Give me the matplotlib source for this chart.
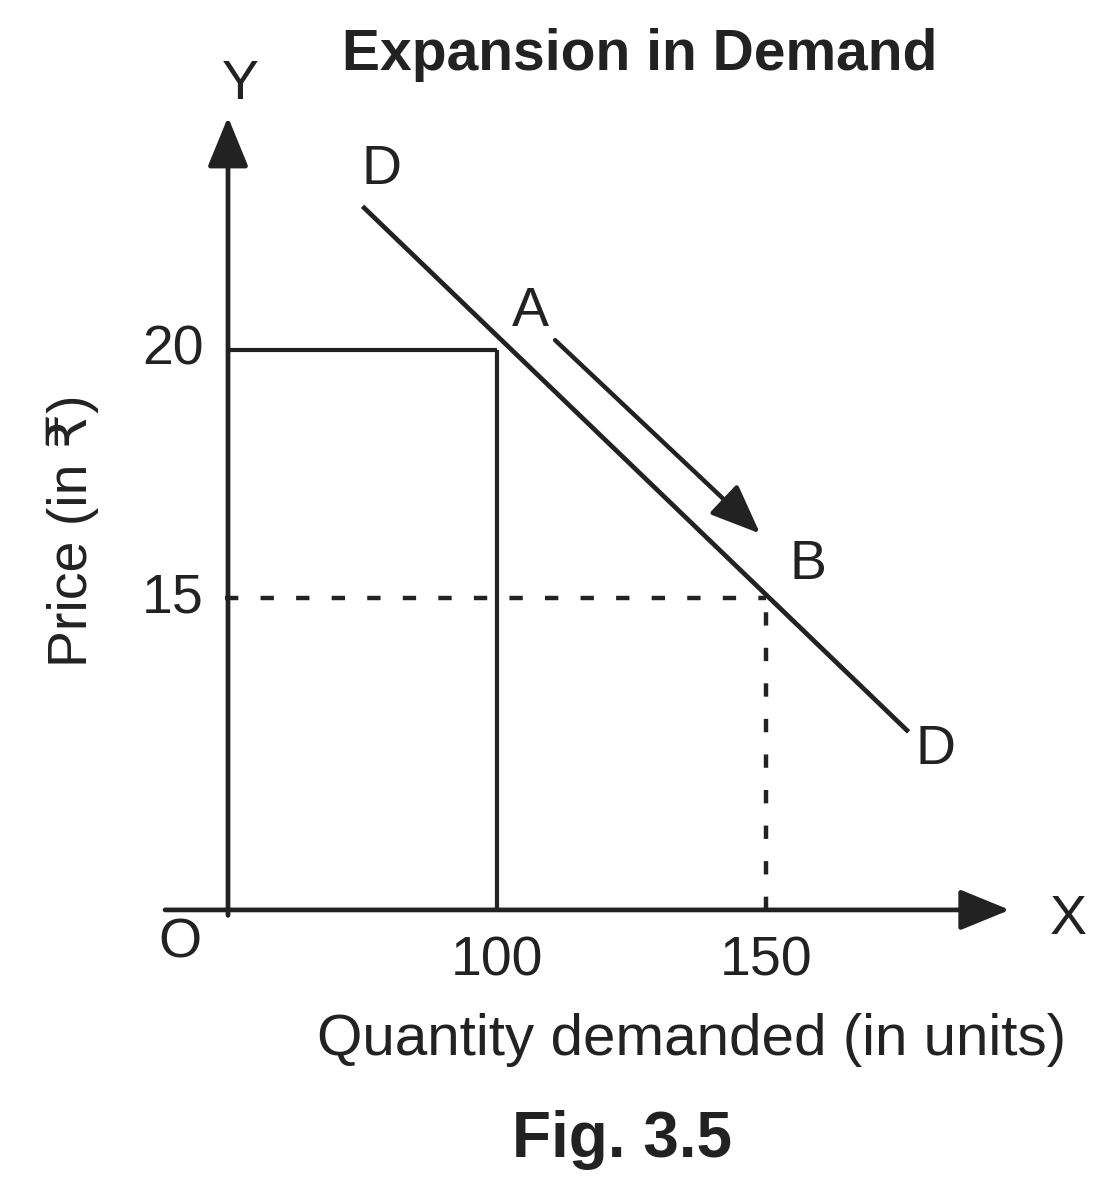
# ==========================================================
# Expansion in Demand - Fig. 3.5
# ==========================================================

import matplotlib
matplotlib.use("Agg")
import matplotlib.pyplot as plt

# ==========================
# STEP 1 : Chart Data
# ==========================

quantity_ticks = [100, 150]
price_ticks = [20, 15]

demand_q = [75, 176.5]
demand_p = [22.9, 12.3]

point_a = (100, 20)
point_b = (150, 15)

move_start = (110.8, 20.2)
move_end = (148.9, 16.3)

# ==========================
# STEP 2 : Layout
# ==========================

Q0 = 50      # where the drawn axes meet (schematic origin)
P0 = 8.71

INK = "#222222"
FONT = ["Liberation Sans", "DejaVu Sans"]

fig = plt.figure(figsize=(11.13, 12), dpi=100)
ax = fig.add_axes([0, 0, 1, 1])
ax.set_xlim(7.62, 214.5)
ax.set_ylim(2.86, 27.06)
ax.axis("off")


def fx(px):
    return px / 1113


def fy(py):
    return 1 - py / 1200


# ==========================
# STEP 3 : Axes with arrows
# ==========================

axis_arrow = dict(arrowstyle="-|>,head_length=1.1,head_width=0.45",
                  lw=3.4, color=INK, mutation_scale=28,
                  shrinkA=0, shrinkB=0)

ax.annotate("", xy=(195.3, P0), xytext=(38.3, P0), arrowprops=axis_arrow)
ax.annotate("", xy=(Q0, 24.7), xytext=(Q0, 8.6), arrowprops=axis_arrow)

# ==========================
# STEP 4 : Guide lines
# ==========================

ax.plot([Q0, point_a[0]], [point_a[1], point_a[1]], color=INK, lw=3.0,
        solid_capstyle="butt")
ax.plot([point_a[0], point_a[0]], [P0, point_a[1]], color=INK, lw=3.0,
        solid_capstyle="butt")

ax.plot([Q0 - 0.5, point_b[0]], [point_b[1], point_b[1]], color=INK,
        lw=3.2, linestyle=(0, (3, 5)))
ax.plot([point_b[0], point_b[0]], [P0, point_b[1]], color=INK, lw=3.2,
        linestyle=(0, (3, 5)))

# ==========================
# STEP 5 : Demand curve
# ==========================

ax.plot(demand_q, demand_p, color=INK, lw=3.4, solid_capstyle="butt")

ax.annotate("", xy=move_end, xytext=move_start,
            arrowprops=dict(arrowstyle="-|>,head_length=1.1,head_width=0.45",
                            lw=3.2, color=INK, mutation_scale=28,
                            shrinkA=0, shrinkB=0))

# ==========================
# STEP 6 : Labels
# ==========================

for q in quantity_ticks:
    ax.text(q, P0 - 1.05, str(q), ha="center", va="center",
            fontsize=40, color=INK, family=FONT)

for p in price_ticks:
    ax.text(Q0 - 10.3, p, str(p), ha="center", va="center",
            fontsize=40, color=INK, family=FONT)

fig.text(fx(180), fy(943), "O", ha="center", va="center",
         fontsize=40, color=INK, family=FONT)
fig.text(fx(1068), fy(920), "X", ha="center", va="center",
         fontsize=40, color=INK, family=FONT)
fig.text(fx(240), fy(85), "Y", ha="center", va="center",
         fontsize=40, color=INK, family=FONT)

fig.text(fx(382), fy(170), "D", ha="center", va="center",
         fontsize=40, color=INK, family=FONT)
fig.text(fx(935), fy(750), "D", ha="center", va="center",
         fontsize=40, color=INK, family=FONT)
fig.text(fx(530), fy(312), "A", ha="center", va="center",
         fontsize=40, color=INK, family=FONT)
fig.text(fx(808), fy(565), "B", ha="center", va="center",
         fontsize=40, color=INK, family=FONT)

fig.text(fx(640), fy(55), "Expansion in Demand", ha="center",
         va="center", fontsize=41, fontweight="bold", color=INK,
         family=FONT)

fig.text(fx(692), fy(1040), "Quantity demanded (in units)", ha="center",
         va="center", fontsize=42, color=INK, family=FONT)

fig.text(fx(73), fy(531), "Price (in \u20b9)", ha="center", va="center",
         rotation=90, fontsize=40, color=INK, family=FONT)

fig.text(fx(622), fy(1140), "Fig. 3.5", ha="center", va="center",
         fontsize=46, fontweight="bold", color=INK, family=FONT)

plt.savefig("out.png", dpi=100, facecolor="white")
plt.close()
